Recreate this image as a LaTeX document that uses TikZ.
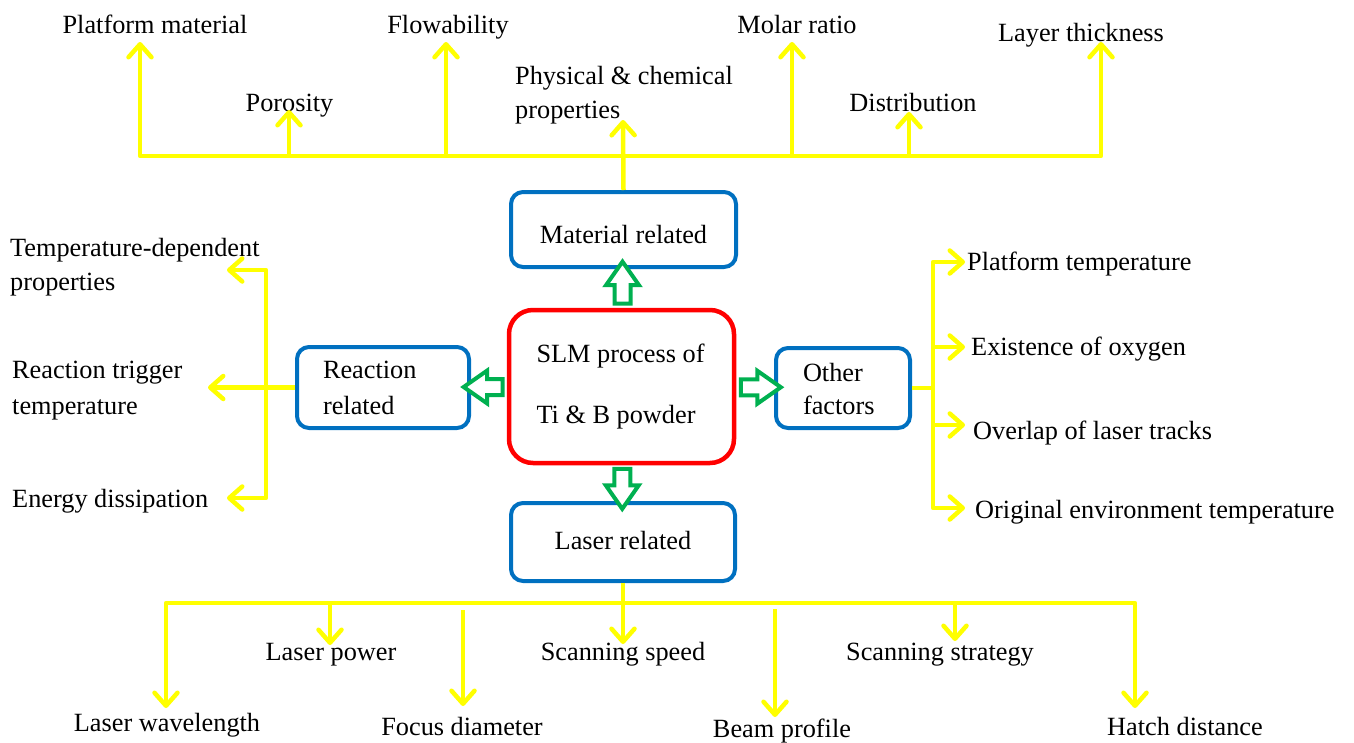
\documentclass[tikz,border=0pt]{standalone}
\usepackage{fontspec}
\setmainfont{Liberation Serif}
\usetikzlibrary{arrows.meta,shapes.arrows,calc}
\definecolor{boxblue}{RGB}{0,112,192}
\definecolor{boxred}{RGB}{255,0,0}
\definecolor{flowgreen}{RGB}{0,176,80}
\definecolor{branch}{RGB}{255,255,0}
\newcommand{\twolines}[3]{\parbox[t]{#1}{\raggedright #2\\#3}}
\tikzset{
  lbl/.style={inner sep=0pt, font=\fontsize{26.3}{34}\selectfont},
  catbox/.style={draw=boxblue, line width=4pt, rounded corners=12pt, inner sep=0pt},
  corebox/.style={draw=boxred, line width=4.5pt, rounded corners=24pt, inner sep=0pt},
  branchline/.style={draw=branch, line width=4.5pt, line join=round},
  barb/.tip={Straight Barb[round,length=13pt,width=23pt]},
  tip/.style={-barb},
  bothtips/.style={barb-barb},
  flow/.style={single arrow, draw=flowgreen, fill=white, line width=4pt,
    inner sep=6pt, single arrow head extend=8.5pt, single arrow tip angle=70},
}
\begin{document}
\begin{tikzpicture}[x=1pt,y=-1pt]
\useasboundingbox (0,0) rectangle (1354,742);

% central process and the four groups of factors
\node[corebox, minimum width=225pt, minimum height=153pt,
      font=\fontsize{26.3}{61}\selectfont, text height=0pt, text depth=49pt]
  (slm) at (621.5,386.5) {\twolines{170pt}{SLM process of}{Ti \& B powder}};
\node[catbox, minimum width=225pt, minimum height=75pt,
      font=\fontsize{26.3}{34}\selectfont, text height=27pt, text depth=0pt]
  (mat) at (623.5,229.5) {Material related};
\node[catbox, minimum width=224pt, minimum height=78pt,
      font=\fontsize{26.3}{34}\selectfont, text height=14pt, text depth=0pt]
  (las) at (623,542) {Laser related};
\node[catbox, minimum width=172pt, minimum height=81pt,
      font=\fontsize{26.3}{36}\selectfont, text height=0pt, text depth=19pt]
  (rea) at (383,387.5) {\twolines{120pt}{Reaction}{related}};
\node[catbox, minimum width=134pt, minimum height=80pt,
      font=\fontsize{26.3}{33}\selectfont, text height=0pt, text depth=14pt]
  (oth) at (843,388) {\twolines{80pt}{Other}{factors}};

% hollow green arrows from the process to each group
\node[flow, shape border rotate=90, minimum height=42pt]
  at ($(slm.north)!0.5!(mat.south)$) {};
\node[flow, shape border rotate=270, minimum height=40pt]
  at ($(slm.south)!0.5!(las.north)$) {};
\node[flow, shape border rotate=180, minimum height=39pt]
  at ($(slm.west)!0.5!(rea.east)$) {};
\node[flow, shape border rotate=0, minimum height=40pt]
  at ($(slm.east)!0.5!(oth.west)$) {};

% ---- material related ----
\node[lbl, anchor=base] (platmat) at (155,33) {Platform material};
\node[lbl, anchor=base] (poro) at (289.5,111) {Porosity};
\node[lbl, anchor=base] (flow) at (448,33) {Flowability};
\node[lbl, anchor=base west] (phys) at (515,84)
  {\twolines{240pt}{Physical \& chemical}{properties}};
\node[lbl, anchor=base] (molar) at (797,33) {Molar ratio};
\node[lbl, anchor=base] (distr) at (913,111) {Distribution};
\node[lbl, anchor=base] (layer) at (1081,41) {Layer thickness};

\coordinate (tb1) at (140,156);
\coordinate (tb2) at (1101,156);
\coordinate (tPlat) at (140,42);
\coordinate (tPor) at (289,110);
\coordinate (tFlow) at (446,42);
\coordinate (tPhys) at (623,120);
\coordinate (tMolar) at (792,42);
\coordinate (tDistr) at (909,112);
\coordinate (tLayer) at (1101,42);

\draw[branchline, bothtips] (tPlat) -- (tb1) -- (tb2) -- (tLayer);
\draw[branchline, tip] (tPor |- tb1) -- (tPor);
\draw[branchline, tip] (tFlow |- tb1) -- (tFlow);
\draw[branchline, tip] (tMolar |- tb1) -- (tMolar);
\draw[branchline, tip] (tDistr |- tb1) -- (tDistr);
\draw[branchline, tip] (mat.north) -- (tPhys);

% ---- reaction related ----
\node[lbl, anchor=base west] (tdep) at (10,256)
  {\twolines{280pt}{Temperature-dependent}{properties}};
\node[lbl, anchor=base west, font=\fontsize{26.3}{36}\selectfont] (trig) at (12,378)
  {\twolines{200pt}{Reaction trigger}{temperature}};
\node[lbl, anchor=base west] (edis) at (12,507) {Energy dissipation};

\coordinate (lSpine) at (266,270);
\coordinate (lTop) at (227,270);
\coordinate (lBot) at (227,498);
\coordinate (lMid) at (208,387.5);

\draw[branchline, bothtips] (lTop) -- (lSpine) -- (lSpine |- lBot) -- (lBot);
\draw[branchline, tip] (rea.west) -- (lMid);

% ---- other factors ----
\node[lbl, anchor=base west] (ptemp) at (967,270) {Platform temperature};
\node[lbl, anchor=base west] (oxy) at (971,355) {Existence of oxygen};
\node[lbl, anchor=base west] (ovl) at (973,439) {Overlap of laser tracks};
\node[lbl, anchor=base west] (env) at (975,518) {Original environment temperature};

\coordinate (rSpine) at (933,262);
\coordinate (rT1) at (965,262);
\coordinate (rT2) at (965,347);
\coordinate (rT3) at (965,425);
\coordinate (rT4) at (965,508);

\draw[branchline] (oth.east) -- (oth.east -| rSpine);
\draw[branchline, bothtips] (rT1) -- (rSpine) -- (rSpine |- rT4) -- (rT4);
\draw[branchline, tip] (rSpine |- rT2) -- (rT2);
\draw[branchline, tip] (rSpine |- rT3) -- (rT3);

% ---- laser related ----
\node[lbl, anchor=base] (lpow) at (331,660) {Laser power};
\node[lbl, anchor=base] (sspd) at (623,660) {Scanning speed};
\node[lbl, anchor=base] (sstr) at (940,660) {Scanning strategy};
\node[lbl, anchor=base] (lwav) at (167,731) {Laser wavelength};
\node[lbl, anchor=base] (focd) at (462,735) {Focus diameter};
\node[lbl, anchor=base] (beam) at (782,737) {Beam profile};
\node[lbl, anchor=base] (hatch) at (1185,735) {Hatch distance};

\coordinate (bL) at (166,603);
\coordinate (bR) at (1135,603);
\coordinate (bWav) at (166,708);
\coordinate (bPow) at (330,645);
\coordinate (bFoc) at (463,706);
\coordinate (bSpd) at (623,644);
\coordinate (bBeam) at (775,717);
\coordinate (bStr) at (955,641);
\coordinate (bHatch) at (1135,708);

\draw[branchline, bothtips] (bWav) -- (bL) -- (bR) -- (bHatch);
\draw[branchline, tip] (las.south) -- (bSpd);
\draw[branchline, tip] (bPow |- bL) -- (bPow);
\draw[branchline, tip] (bStr |- bL) -- (bStr);
\draw[branchline, tip] ($(bFoc |- bL)+(0,7)$) -- (bFoc);
\draw[branchline, tip] ($(bBeam |- bL)+(0,6)$) -- (bBeam);
\end{tikzpicture}
\end{document}
